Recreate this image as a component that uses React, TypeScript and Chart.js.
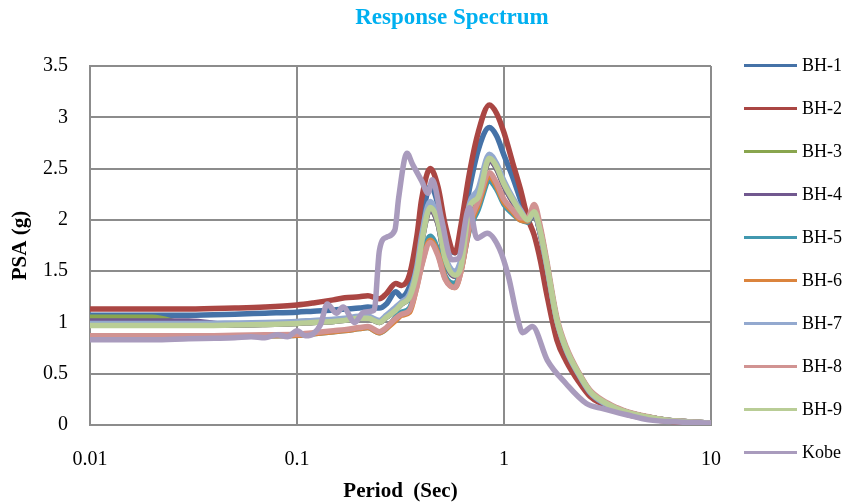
import React, { useEffect, useRef } from "react";
import { Chart, registerables } from "chart.js";

Chart.register(...registerables);

const FONT = "'Liberation Serif', 'Times New Roman', Times, serif";

const periods = [0.01, 0.02, 0.03, 0.05, 0.07, 0.1, 0.12, 0.15, 0.17, 0.2, 0.22, 0.25, 0.27, 0.3, 0.32, 0.35, 0.38, 0.4, 0.44, 0.48, 0.52, 0.58, 0.62, 0.68, 0.75, 0.85, 0.92, 1.0, 1.1, 1.2, 1.3, 1.4, 1.5, 1.6, 1.8, 2.0, 2.3, 2.6, 3.0, 3.5, 4, 5, 6, 8, 10];

const bh1 = [1.07, 1.07, 1.07, 1.08, 1.09, 1.10, 1.11, 1.12, 1.13, 1.14, 1.15, 1.14, 1.18, 1.30, 1.25, 1.35, 1.6, 1.95, 2.33, 2.15, 1.82, 1.68, 1.85, 2.3, 2.68, 2.9, 2.82, 2.63, 2.42, 2.2, 2.0, 2.05, 1.86, 1.58, 1.02, 0.73, 0.49, 0.32, 0.22, 0.16, 0.12, 0.075, 0.05, 0.03, 0.02];
const bh2 = [1.13, 1.13, 1.13, 1.14, 1.15, 1.17, 1.19, 1.22, 1.24, 1.25, 1.26, 1.23, 1.28, 1.38, 1.36, 1.47, 1.85, 2.2, 2.5, 2.32, 1.95, 1.68, 1.95, 2.45, 2.85, 3.12, 3.04, 2.85, 2.56, 2.3, 2.02, 1.85, 1.6, 1.3, 0.83, 0.62, 0.42, 0.28, 0.2, 0.14, 0.1, 0.06, 0.04, 0.025, 0.02];
const bh3 = [1.05, 1.05, 0.98, 0.975, 0.98, 0.99, 1.0, 1.01, 1.02, 1.04, 1.04, 1.0, 1.05, 1.12, 1.18, 1.25, 1.5, 1.78, 2.1, 1.96, 1.6, 1.45, 1.55, 2.1, 2.2, 2.58, 2.5, 2.33, 2.18, 2.06, 1.98, 2.06, 1.86, 1.58, 1.02, 0.73, 0.49, 0.32, 0.22, 0.16, 0.12, 0.075, 0.05, 0.03, 0.02];
const bh4 = [1.015, 1.015, 1.015, 0.975, 0.98, 0.99, 1.0, 1.01, 1.02, 1.04, 1.04, 1.0, 1.05, 1.12, 1.18, 1.25, 1.5, 1.78, 2.1, 1.96, 1.6, 1.45, 1.55, 2.1, 2.2, 2.58, 2.5, 2.33, 2.18, 2.06, 1.98, 2.06, 1.86, 1.58, 1.02, 0.73, 0.49, 0.32, 0.22, 0.16, 0.12, 0.075, 0.05, 0.03, 0.02];
const bh5 = [0.86, 0.86, 0.86, 0.865, 0.87, 0.875, 0.89, 0.91, 0.92, 0.94, 0.95, 0.9, 0.94, 1.05, 1.1, 1.14, 1.4, 1.6, 1.84, 1.7, 1.45, 1.38, 1.52, 1.9, 2.1, 2.38, 2.3, 2.15, 2.06, 2.0, 1.98, 2.1, 1.9, 1.6, 1.02, 0.74, 0.5, 0.33, 0.23, 0.16, 0.12, 0.075, 0.05, 0.03, 0.02];
const bh6 = [0.86, 0.86, 0.86, 0.865, 0.87, 0.875, 0.89, 0.91, 0.92, 0.94, 0.95, 0.9, 0.94, 1.02, 1.07, 1.1, 1.36, 1.56, 1.8, 1.67, 1.43, 1.34, 1.5, 1.92, 2.14, 2.42, 2.33, 2.17, 2.08, 2.0, 1.99, 2.12, 1.9, 1.6, 1.02, 0.74, 0.5, 0.33, 0.23, 0.16, 0.12, 0.075, 0.05, 0.03, 0.02];
const bh7 = [0.99, 0.99, 0.99, 0.995, 1.0, 1.01, 1.02, 1.03, 1.04, 1.06, 1.06, 1.02, 1.07, 1.15, 1.2, 1.28, 1.55, 1.85, 2.18, 2.0, 1.65, 1.5, 1.62, 2.15, 2.3, 2.64, 2.55, 2.38, 2.22, 2.1, 2.0, 2.07, 1.87, 1.58, 1.02, 0.73, 0.49, 0.32, 0.22, 0.16, 0.12, 0.075, 0.05, 0.03, 0.02];
const bh8 = [0.87, 0.87, 0.87, 0.875, 0.88, 0.885, 0.9, 0.92, 0.93, 0.95, 0.96, 0.91, 0.95, 1.04, 1.08, 1.12, 1.35, 1.55, 1.78, 1.65, 1.42, 1.34, 1.5, 1.95, 2.18, 2.46, 2.36, 2.2, 2.1, 2.02, 2.02, 2.15, 1.93, 1.63, 1.05, 0.76, 0.51, 0.34, 0.24, 0.17, 0.125, 0.08, 0.05, 0.03, 0.02];
const bh9 = [0.97, 0.97, 0.97, 0.975, 0.98, 0.99, 1.0, 1.01, 1.02, 1.04, 1.04, 1.0, 1.05, 1.12, 1.18, 1.25, 1.5, 1.78, 2.12, 1.98, 1.62, 1.46, 1.55, 2.12, 2.22, 2.6, 2.52, 2.35, 2.2, 2.08, 2.0, 2.08, 1.88, 1.6, 1.03, 0.74, 0.5, 0.33, 0.23, 0.16, 0.12, 0.075, 0.05, 0.03, 0.02];

const kobePeriods = [0.01, 0.02, 0.03, 0.04, 0.05, 0.06, 0.07, 0.08, 0.09, 0.1, 0.11, 0.12, 0.13, 0.14, 0.155, 0.167, 0.19, 0.21, 0.236, 0.25, 0.27, 0.297, 0.31, 0.34, 0.36, 0.4, 0.43, 0.45, 0.5, 0.56, 0.6, 0.68, 0.74, 0.83, 0.95, 1.05, 1.16, 1.23, 1.37, 1.62, 2.0, 2.5, 3.0, 3.9, 5, 7, 10];
const kobe = [0.83, 0.83, 0.84, 0.845, 0.85, 0.86, 0.85, 0.88, 0.86, 0.92, 0.87, 0.89, 0.98, 1.18, 1.09, 1.15, 1.0, 1.1, 1.12, 1.7, 1.83, 1.9, 2.22, 2.65, 2.55, 2.38, 2.26, 2.39, 2.0, 1.61, 1.62, 2.12, 1.82, 1.87, 1.72, 1.45, 1.05, 0.9, 0.96, 0.63, 0.4, 0.21, 0.16, 0.1, 0.05, 0.03, 0.02];

const seriesNames = ["BH-1", "BH-2", "BH-3", "BH-4", "BH-5", "BH-6", "BH-7", "BH-8", "BH-9", "Kobe"];
const seriesColors = ["#4572A7", "#AA4643", "#89A54E", "#71588F", "#4198AF", "#DB843D", "#93A9CF", "#D19392", "#B9CD96", "#A99BBD"];

const xTicks = [0.01, 0.1, 1, 10];
const yMin = 0;
const yMax = 3.5;
const yStep = 0.5;

const GRID = "#8c8c8c";

export default function App() {
  const ref = useRef<HTMLCanvasElement>(null);

  useEffect(() => {
    const bhValues = [bh1, bh2, bh3, bh4, bh5, bh6, bh7, bh8, bh9];
    const datasets: any[] = bhValues.map((vals, i) => ({
      label: seriesNames[i],
      data: periods.map((p, j) => ({ x: p, y: vals[j] })),
      borderColor: seriesColors[i],
      backgroundColor: seriesColors[i],
      borderWidth: 5.5,
      pointRadius: 0,
      fill: false,
      cubicInterpolationMode: "monotone",
      order: -i,
    }));
    datasets.push({
      label: seriesNames[9],
      data: kobePeriods.map((p, j) => ({ x: p, y: kobe[j] })),
      borderColor: seriesColors[9],
      backgroundColor: seriesColors[9],
      borderWidth: 5.5,
      pointRadius: 0,
      fill: false,
      cubicInterpolationMode: "monotone",
      order: -9,
    });

    const chart = new Chart(ref.current as HTMLCanvasElement, {
      type: "line",
      data: { datasets },
      options: {
        animation: false,
        responsive: false,
        devicePixelRatio: 1,
        layout: { padding: { left: 0, top: 66, right: 133, bottom: 0 } },
        plugins: {
          legend: { display: false },
          title: { display: false },
          tooltip: { enabled: false },
        },
        scales: {
          x: {
            type: "logarithmic",
            min: 0.01,
            max: 10,
            afterBuildTicks: (scale: any) => {
              scale.ticks = xTicks.map((v) => ({ value: v }));
            },
            afterFit: (scale: any) => {
              scale.height = 79;
            },
            ticks: {
              color: "#000",
              font: { family: FONT, size: 20 },
              padding: 23,
              maxRotation: 0,
              autoSkip: false,
              callback: (v: any) => String(v),
            },
            grid: { color: GRID, lineWidth: 2, drawTicks: false },
            border: { color: GRID, width: 2 },
            title: {
              display: true,
              text: "Period  (Sec)",
              color: "#000",
              font: { family: FONT, size: 21, weight: "bold" },
              padding: { top: 0, bottom: 0 },
            },
          },
          y: {
            type: "linear",
            min: yMin,
            max: yMax,
            afterFit: (scale: any) => {
              scale.width = 90;
            },
            ticks: {
              stepSize: yStep,
              color: "#000",
              font: { family: FONT, size: 20 },
              padding: 22,
              callback: (v: any) => String(v),
            },
            grid: { color: GRID, lineWidth: 2, drawTicks: false },
            border: { color: GRID, width: 2 },
            title: {
              display: true,
              text: "PSA (g)",
              color: "#000",
              font: { family: FONT, size: 21, weight: "bold" },
              padding: { top: 8, bottom: 0 },
            },
          },
        },
      } as any,
    });
    return () => chart.destroy();
  }, []);

  return (
    <div style={{ position: "fixed", left: 0, top: 0, width: 844, height: 504, background: "#fff", fontFamily: FONT }}>
      <canvas ref={ref} width={844} height={504} style={{ position: "absolute", left: 0, top: 0, width: 844, height: 504 }} />
      <div
        style={{
          position: "absolute",
          left: 302,
          top: 4,
          width: 300,
          textAlign: "center",
          fontWeight: "bold",
          fontSize: 23,
          lineHeight: "26px",
          color: "#00B0F0",
        }}
      >
        Response Spectrum
      </div>
      {seriesNames.map((name, i) => (
        <div key={name} style={{ position: "absolute", left: 744, top: 65 + i * 43 - 12, height: 24, display: "flex", alignItems: "center" }}>
          <div style={{ width: 53, height: 3, background: seriesColors[i] }} />
          <span style={{ marginLeft: 5, fontSize: 18, lineHeight: "24px", color: "#000" }}>{name}</span>
        </div>
      ))}
    </div>
  );
}
